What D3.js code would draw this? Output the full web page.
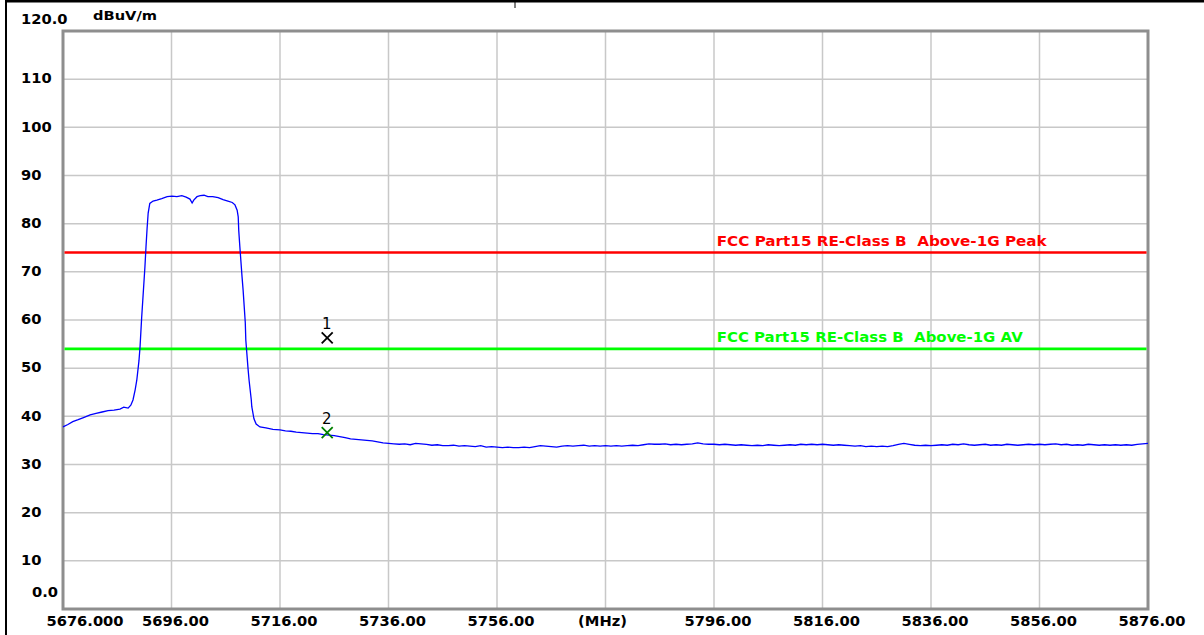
<!DOCTYPE html>
<html>
<head>
<meta charset="utf-8">
<script src="https://cdn.jsdelivr.net/npm/d3@7/dist/d3.min.js"></script>
<style>
  html, body { margin: 0; padding: 0; background: #ffffff; }
  svg { display: block; }
  text { font-family: "DejaVu Sans", "Verdana", sans-serif; white-space: pre; }
</style>
</head>
<body>
<svg id="chart" width="1204" height="635"></svg>
<script>
// ---- data -------------------------------------------------------------
const freqTicks = [5676, 5696, 5716, 5736, 5756, 5776, 5796, 5816, 5836, 5856, 5876];
const freqTickLabels = ["5676.000", "5696.00", "5716.00", "5736.00", "5756.00", "(MHz)",
                        "5796.00", "5816.00", "5836.00", "5856.00", "5876.00"];
const levelTicks = [0, 10, 20, 30, 40, 50, 60, 70, 80, 90, 100, 110, 120];
const levelTickLabels = ["0.0", "10", "20", "30", "40", "50", "60", "70", "80", "90", "100", "110", "120.0"];
const unitLabel = "dBuV/m";

// measured spectrum (MHz, dBuV/m)
const traceFreq = [
  5676.0, 5676.9, 5677.8, 5678.8, 5679.9, 5681.0, 5682.1, 5683.2, 5684.3, 5685.4,
  5686.5, 5687.2, 5688.0, 5688.5, 5688.9, 5689.3, 5689.6, 5690.0, 5690.2, 5690.5,
  5690.7, 5691.1, 5691.3, 5691.5, 5691.7, 5692.0, 5692.6, 5693.3, 5694.2, 5695.2,
  5696.1, 5697.0, 5697.9, 5698.7, 5699.4, 5699.8, 5700.1, 5700.7, 5701.3, 5702.0,
  5702.7, 5703.6, 5704.6, 5705.5, 5706.4, 5707.2, 5707.7, 5708.1, 5708.3, 5708.4,
  5708.6, 5709.0, 5709.2, 5709.6, 5709.7, 5710.1, 5710.3, 5710.7, 5710.8, 5711.2,
  5711.6, 5712.3, 5713.4, 5714.7, 5716.0, 5717.0, 5718.0, 5719.0, 5720.0, 5721.0,
  5722.0, 5723.0, 5724.0, 5725.0, 5726.0, 5727.0, 5728.0, 5729.0, 5730.0, 5731.0,
  5732.0, 5733.0, 5734.0, 5735.0, 5736.0, 5737.0,
  5738, 5739, 5740, 5741, 5742, 5743, 5744, 5745, 5746, 5747,
  5748, 5749, 5750, 5751, 5752, 5753, 5754, 5755, 5756, 5757,
  5758, 5759, 5760, 5761, 5762, 5763, 5764, 5765, 5766, 5767,
  5768, 5769, 5770, 5771, 5772, 5773, 5774, 5775, 5776, 5777,
  5778, 5779, 5780, 5781, 5782, 5783, 5784, 5785, 5786, 5787,
  5788, 5789, 5790, 5791, 5792, 5793, 5794, 5795, 5796, 5797,
  5798, 5799, 5800, 5801, 5802, 5803, 5804, 5805, 5806, 5807,
  5808, 5809, 5810, 5811, 5812, 5813, 5814, 5815, 5816, 5817,
  5818, 5819, 5820, 5821, 5822, 5823, 5824, 5825, 5826, 5827,
  5828, 5829, 5830, 5831, 5832, 5833, 5834, 5835, 5836, 5837,
  5838, 5839, 5840, 5841, 5842, 5843, 5844, 5845, 5846, 5847,
  5848, 5849, 5850, 5851, 5852, 5853, 5854, 5855, 5856, 5857,
  5858, 5859, 5860, 5861, 5862, 5863, 5864, 5865, 5866, 5867,
  5868, 5869, 5870, 5871, 5872, 5873, 5874, 5875, 5876
];
const traceLevel = [
  37.8, 38.3, 38.9, 39.3, 39.8, 40.3, 40.6, 40.9, 41.2, 41.3,
  41.5, 41.9, 41.7, 42.3, 43.4, 45.5, 47.5, 51.5, 54.4, 60.5,
  64.0, 71.0, 75.2, 79.0, 82.2, 84.2, 84.7, 84.9, 85.2, 85.6,
  85.7, 85.6, 85.8, 85.5, 85.1, 84.3, 84.9, 85.6, 85.8, 85.9,
  85.6, 85.6, 85.4, 85.0, 84.7, 84.4, 83.9, 82.8, 81.4, 78.5,
  75.2, 69.0, 66.2, 59.5, 55.8, 50.0, 47.5, 43.5, 42.0, 39.5,
  38.4, 37.8, 37.6, 37.3, 37.2, 37.0, 36.9, 36.7, 36.6, 36.5,
  36.4, 36.4, 36.2, 36.1, 36.0, 35.8, 35.6, 35.3, 35.2, 35.1,
  35.0, 34.9, 34.7, 34.5, 34.4, 34.3,
  34.2, 34.3, 34.1, 34.4, 34.3, 34.2, 34.0, 34.1, 33.9, 33.9,
  34.0, 33.8, 33.9, 33.8, 33.7, 33.9, 33.6, 33.7, 33.6, 33.5,
  33.6, 33.5, 33.5, 33.6, 33.5, 33.7, 33.9, 33.8, 33.7, 33.6,
  33.8, 33.9, 33.8, 33.9, 34.0, 33.8, 33.9, 33.8, 33.9, 33.8,
  33.9, 33.8, 33.9, 34.0, 33.9, 34.1, 34.3, 34.2, 34.2, 34.3,
  34.1, 34.2, 34.1, 34.2, 34.3, 34.5, 34.3, 34.2, 34.2, 34.1,
  34.2, 34.1, 34.0, 34.1, 34.0, 33.9, 34.0, 33.9, 34.1, 34.0,
  33.9, 34.0, 34.1, 34.0, 34.2, 34.1, 34.2, 34.1, 34.2, 34.1,
  34.0, 34.1, 34.0, 33.9, 33.8, 33.9, 33.7, 33.8, 33.7, 33.8,
  33.7, 33.9, 34.2, 34.4, 34.2, 34.0, 33.9, 34.0, 33.9, 34.0,
  34.1, 34.0, 34.2, 34.1, 34.3, 34.1, 34.0, 34.1, 34.2, 34.0,
  34.1, 34.0, 34.2, 34.1, 34.0, 34.1, 34.2, 34.1, 34.2, 34.1,
  34.2, 34.3, 34.1, 34.2, 34.0, 34.1, 34.0, 34.2, 34.1, 34.0,
  34.1, 34.0, 34.1, 34.0, 34.1, 34.0, 34.2, 34.3, 34.4
];

// limit lines
const limitNames = ["FCC Part15 RE-Class B  Above-1G Peak", "FCC Part15 RE-Class B  Above-1G AV"];
const limitLevels = [74, 54];
const limitColors = ["#ff0000", "#00ff00"];
const limitLabelFreq = 5796.5;

// markers
const markerIds = ["1", "2"];
const markerFreq = [5724.7, 5724.7];
const markerLevel = [56.3, 36.6];
const markerColors = ["#000000", "#008000"];

// ---- layout -----------------------------------------------------------
const plot = { left: 63, right: 1148, top: 31, bottom: 609 };
const svg = d3.select("#chart");

const x = d3.scaleLinear().domain([5676, 5876]).range([plot.left, plot.right]);
const y = d3.scaleLinear().domain([0, 120]).range([plot.bottom, plot.top]);

// page frame lines
svg.append("line").attr("x1", 5).attr("x2", 1204).attr("y1", 1.2).attr("y2", 1.2)
  .attr("stroke", "#000").attr("stroke-width", 2.5);
svg.append("line").attr("x1", 6).attr("x2", 6).attr("y1", 0).attr("y2", 635)
  .attr("stroke", "#000").attr("stroke-width", 2);
svg.append("line").attr("x1", 515).attr("x2", 515).attr("y1", 0).attr("y2", 8)
  .attr("stroke", "#000").attr("stroke-width", 1);

// grid
const grid = svg.append("g");
grid.selectAll("line.v").data(freqTicks.slice(1, -1)).join("line")
  .attr("x1", d => x(d)).attr("x2", d => x(d))
  .attr("y1", plot.top).attr("y2", plot.bottom)
  .attr("stroke", "#c8c8c8").attr("stroke-width", 1.5);
grid.selectAll("line.h").data(levelTicks.slice(1, -1)).join("line")
  .attr("x1", plot.left).attr("x2", plot.right)
  .attr("y1", d => y(d)).attr("y2", d => y(d))
  .attr("stroke", "#c8c8c8").attr("stroke-width", 1.5);

// plot border
svg.append("rect")
  .attr("x", plot.left).attr("y", plot.top)
  .attr("width", plot.right - plot.left).attr("height", plot.bottom - plot.top)
  .attr("fill", "none").attr("stroke", "#8e8e8e").attr("stroke-width", 3);

// y tick labels
svg.append("g").selectAll("text").data(levelTicks).join("text")
  .attr("x", (d, i) => i === 0 ? 32 : 21)
  .attr("y", (d, i) => i === 0 ? y(d) - 12.3 : (i === levelTicks.length - 1 ? y(d) - 7 : y(d) + 4.3))
  .attr("font-size", 14.7).attr("font-weight", "bold").attr("fill", "#000")
  .text((d, i) => levelTickLabels[i]);

// unit label
svg.append("text").attr("x", 93).attr("y", 20)
  .attr("font-size", 12).attr("font-weight", "bold")
  .attr("textLength", 64).attr("lengthAdjust", "spacingAndGlyphs")
  .text(unitLabel);

// x tick labels
svg.append("g").selectAll("text").data(freqTicks).join("text")
  .attr("x", (d, i) => i === 0 ? x(d) + 22 : (i === 5 ? x(d) - 3 : x(d) + 4))
  .attr("y", 625.7)
  .attr("text-anchor", "middle")
  .attr("font-size", 14.7).attr("font-weight", "bold").attr("fill", "#000")
  .text((d, i) => freqTickLabels[i]);

// limit lines and their names
limitLevels.forEach((lv, i) => {
  svg.append("line")
    .attr("x1", plot.left + 1.5).attr("x2", plot.right - 1.5)
    .attr("y1", y(lv)).attr("y2", y(lv))
    .attr("stroke", limitColors[i]).attr("stroke-width", 2.6);
  svg.append("text")
    .attr("x", x(limitLabelFreq)).attr("y", y(lv) - 7)
    .attr("font-size", 14.5).attr("font-weight", "bold")
    .attr("fill", limitColors[i])
    .attr("xml:space", "preserve")
    .attr("textLength", i === 0 ? 330 : 306).attr("lengthAdjust", "spacingAndGlyphs")
    .text(limitNames[i]);
});

// spectrum trace
const traceData = traceFreq.map((f, i) => [f, traceLevel[i]]);
svg.append("path")
  .datum(traceData)
  .attr("fill", "none")
  .attr("stroke", "#0000ff")
  .attr("stroke-width", 1.3)
  .attr("d", d3.line().x(d => x(d[0])).y(d => y(d[1])));

// markers
markerIds.forEach((id, i) => {
  const cx = x(markerFreq[i]);
  const cy = y(markerLevel[i]);
  const h = 5.5;
  svg.append("path")
    .attr("d", `M${cx - h},${cy - h}L${cx + h},${cy + h}M${cx + h},${cy - h}L${cx - h},${cy + h}`)
    .attr("stroke", markerColors[i]).attr("stroke-width", 1.8).attr("fill", "none");
  svg.append("text")
    .attr("x", cx - 0.5).attr("y", cy - 9)
    .attr("text-anchor", "middle")
    .attr("font-size", 15).attr("fill", "#000")
    .text(id);
});
</script>
</body>
</html>
